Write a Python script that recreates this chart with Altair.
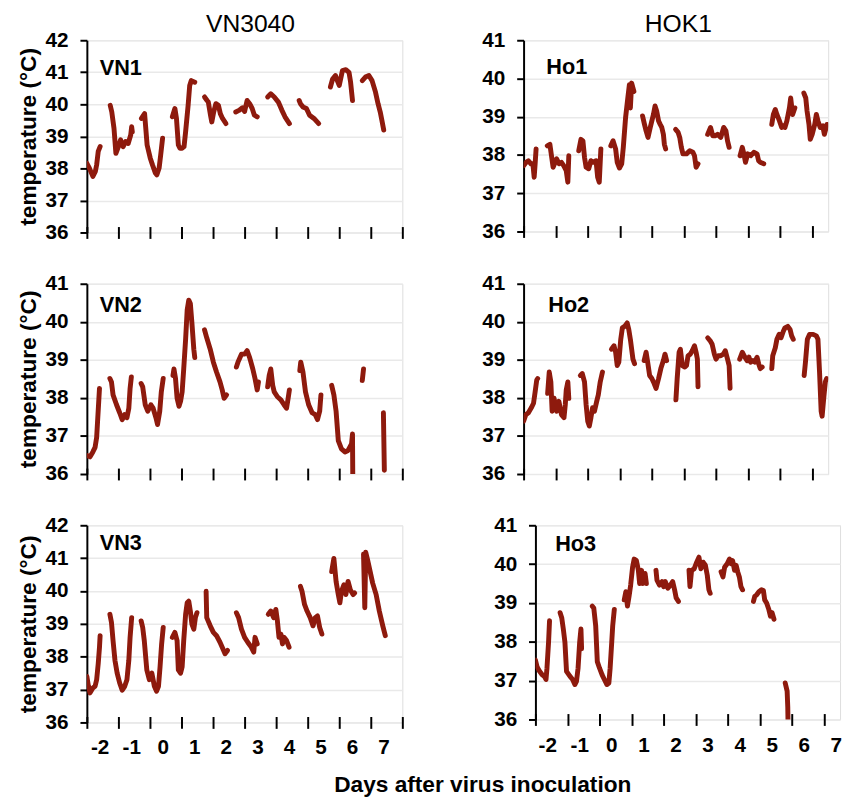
import altair as alt
import pandas as pd

LINE_COLOR = "#8e1a0d"
FONT = "Liberation Sans"

# Each panel: list of recorded segments, each a list of (day after inoculation, temperature °C)
VN1 = [
    [(-2.50, 38.16), (-2.42, 38.01), (-2.31, 37.75), (-2.23, 37.91), (-2.19, 38.11), (-2.14, 38.53), (-2.08, 38.68)],
    [(-1.76, 39.97), (-1.71, 39.76), (-1.64, 39.25), (-1.58, 38.47), (-1.50, 38.68), (-1.43, 38.89), (-1.35, 38.68),
     (-1.27, 38.84), (-1.19, 38.78), (-1.11, 39.04), (-1.08, 39.30), (-1.06, 39.14)],
    [(-0.77, 39.56), (-0.67, 39.71), (-0.59, 38.73), (-0.49, 38.32), (-0.42, 38.11), (-0.33, 37.86), (-0.28, 37.80),
     (-0.21, 38.01), (-0.16, 38.42), (-0.10, 38.94)],
    [(0.21, 39.61), (0.29, 39.87), (0.34, 39.56), (0.40, 38.73), (0.45, 38.63), (0.52, 38.63), (0.58, 38.68),
     (0.63, 39.14), (0.71, 39.97), (0.76, 40.59), (0.81, 40.74), (0.92, 40.69)],
    [(1.23, 40.23), (1.31, 40.12), (1.35, 40.07), (1.42, 39.66), (1.46, 39.45), (1.52, 39.76), (1.59, 40.02),
     (1.67, 39.97), (1.73, 39.71), (1.80, 39.56), (1.91, 39.40)],
    [(2.22, 39.76), (2.32, 39.81), (2.43, 39.89), (2.50, 39.78), (2.58, 40.12), (2.66, 40.02), (2.74, 39.87),
     (2.81, 39.66), (2.90, 39.61)],
    [(3.23, 40.23), (3.33, 40.33), (3.44, 40.23), (3.57, 40.07), (3.68, 39.82), (3.78, 39.61), (3.92, 39.40)],
    [(4.23, 40.12), (4.27, 40.02), (4.35, 39.92), (4.46, 39.87), (4.56, 39.66), (4.72, 39.54), (4.85, 39.40)],
    [(5.22, 40.54), (5.29, 40.79), (5.38, 40.90), (5.42, 40.79), (5.50, 40.59), (5.60, 41.05), (5.71, 41.08),
     (5.81, 41.00), (5.86, 40.69), (5.92, 40.12)],
    [(6.23, 40.74), (6.33, 40.85), (6.44, 40.90), (6.54, 40.74), (6.65, 40.38), (6.73, 40.02), (6.80, 39.76),
     (6.85, 39.51), (6.91, 39.20)],
]

VN2 = [
    [(-2.50, 36.49), (-2.40, 36.45), (-2.31, 36.58), (-2.24, 36.70), (-2.19, 36.96), (-2.16, 37.39), (-2.13, 37.82),
     (-2.10, 38.25)],
    [(-1.77, 38.51), (-1.72, 38.42), (-1.67, 38.08), (-1.56, 37.82), (-1.46, 37.61), (-1.38, 37.43), (-1.30, 37.56),
     (-1.23, 37.48), (-1.17, 37.73), (-1.13, 38.25), (-1.09, 38.55)],
    [(-0.78, 38.38), (-0.73, 38.29), (-0.65, 37.82), (-0.57, 37.65), (-0.47, 37.82), (-0.40, 37.73), (-0.31, 37.48),
     (-0.26, 37.30), (-0.19, 37.65), (-0.14, 38.16), (-0.08, 38.51)],
    [(0.23, 38.59), (0.26, 38.76), (0.31, 38.51), (0.36, 37.99), (0.42, 37.78), (0.47, 37.91), (0.52, 38.16),
     (0.57, 38.76), (0.63, 39.54), (0.68, 40.31), (0.73, 40.57), (0.78, 40.48), (0.83, 39.97), (0.89, 39.28),
     (0.92, 39.06)],
    [(1.23, 39.79), (1.30, 39.58), (1.41, 39.28), (1.51, 38.94), (1.61, 38.68), (1.72, 38.42), (1.79, 38.21),
     (1.85, 37.99), (1.93, 38.08)],
    [(2.24, 38.81), (2.29, 38.94), (2.40, 39.15), (2.50, 39.15), (2.58, 39.24), (2.66, 39.06), (2.76, 38.76),
     (2.83, 38.51), (2.90, 38.21), (2.94, 38.42)],
    [(3.23, 38.29), (3.28, 38.59), (3.33, 38.76), (3.39, 38.33), (3.44, 38.16), (3.54, 38.03), (3.65, 37.95),
     (3.75, 37.82), (3.83, 37.73), (3.88, 37.99), (3.92, 38.21)],
    [(4.25, 38.72), (4.28, 38.94), (4.35, 38.68), (4.43, 38.16), (4.53, 37.82), (4.64, 37.61), (4.74, 37.56),
     (4.81, 37.43), (4.88, 37.65), (4.92, 38.08)],
    [(5.26, 38.33), (5.33, 38.08), (5.40, 37.65), (5.47, 36.88), (5.57, 36.66), (5.68, 36.58), (5.78, 36.62),
     (5.89, 36.79), (5.92, 37.05), (5.93, 35.80)],
    [(6.23, 38.46), (6.27, 38.76)],
    [(6.90, 37.61), (6.93, 36.10)],
]

VN3 = [
    [(-2.50, 37.40), (-2.45, 37.10), (-2.40, 36.90), (-2.31, 37.05), (-2.24, 37.10), (-2.19, 37.30), (-2.14, 37.79),
     (-2.10, 38.29), (-2.08, 38.64)],
    [(-1.77, 39.29), (-1.72, 39.04), (-1.67, 38.49), (-1.61, 37.89), (-1.54, 37.50), (-1.46, 37.20), (-1.38, 36.98),
     (-1.30, 37.10), (-1.23, 37.30), (-1.17, 37.89), (-1.13, 38.59), (-1.08, 39.19)],
    [(-0.78, 39.09), (-0.73, 38.89), (-0.68, 38.49), (-0.60, 37.60), (-0.52, 37.30), (-0.44, 37.50), (-0.36, 37.10),
     (-0.29, 36.95), (-0.23, 37.10), (-0.18, 37.69), (-0.13, 38.39), (-0.08, 38.89)],
    [(0.21, 38.59), (0.29, 38.74), (0.36, 38.49), (0.40, 37.60), (0.47, 37.50), (0.52, 37.69), (0.57, 38.49),
     (0.63, 39.29), (0.68, 39.64), (0.73, 39.69), (0.78, 39.39), (0.83, 38.99), (0.89, 38.84), (0.94, 39.19),
     (0.99, 39.34)],
    [(1.28, 39.99), (1.30, 39.19), (1.41, 38.94), (1.51, 38.74), (1.61, 38.64), (1.72, 38.44), (1.79, 38.29),
     (1.88, 38.09), (1.96, 38.19)],
    [(2.24, 39.34), (2.31, 39.19), (2.40, 38.84), (2.50, 38.59), (2.60, 38.44), (2.71, 38.29), (2.79, 38.14),
     (2.83, 38.59), (2.90, 38.39)],
    [(3.25, 39.29), (3.33, 39.39), (3.42, 39.19), (3.49, 39.44), (3.54, 39.09), (3.59, 38.59), (3.65, 38.69),
     (3.70, 38.39), (3.75, 38.59), (3.83, 38.49), (3.91, 38.29)],
    [(4.27, 40.14), (4.32, 39.99), (4.40, 39.59), (4.48, 39.39), (4.58, 39.19), (4.67, 38.94), (4.74, 39.19),
     (4.81, 39.24), (4.88, 38.89), (4.95, 38.69)],
    [(5.26, 40.59), (5.33, 40.99), (5.40, 40.29), (5.47, 39.89), (5.52, 39.64), (5.57, 39.99), (5.65, 40.19),
     (5.71, 39.89), (5.78, 40.29), (5.85, 40.04), (5.94, 39.89), (5.99, 39.94)],
    [(6.27, 41.13), (6.31, 39.49), (6.34, 41.18), (6.40, 40.94), (6.48, 40.59), (6.56, 40.24), (6.67, 39.89),
     (6.77, 39.39), (6.88, 38.94), (6.96, 38.64)],
]

HO1 = [
    [(-2.50, 37.72), (-2.42, 37.81), (-2.35, 37.85), (-2.27, 37.77), (-2.21, 37.77), (-2.17, 37.42), (-2.14, 37.77),
     (-2.11, 38.16)],
    [(-1.76, 38.24), (-1.68, 38.28), (-1.58, 37.68), (-1.47, 37.90), (-1.39, 37.77), (-1.32, 37.81), (-1.25, 37.72),
     (-1.17, 37.59), (-1.12, 37.29), (-1.09, 37.98)],
    [(-0.78, 38.11), (-0.71, 38.41), (-0.65, 38.37), (-0.60, 37.94), (-0.55, 37.68), (-0.47, 37.64), (-0.40, 37.85),
     (-0.33, 37.81), (-0.24, 37.85), (-0.19, 37.42), (-0.14, 37.29), (-0.09, 38.16)],
    [(0.22, 38.24), (0.29, 38.37), (0.37, 38.16), (0.42, 37.81), (0.49, 37.66), (0.56, 37.77), (0.61, 38.20),
     (0.68, 38.97), (0.75, 39.49), (0.80, 39.84), (0.83, 39.23), (0.87, 39.88), (0.94, 39.66)],
    [(1.21, 39.02), (1.27, 38.80), (1.32, 38.63), (1.38, 38.46), (1.45, 38.72), (1.50, 38.89), (1.55, 39.06),
     (1.60, 39.28), (1.65, 39.15), (1.71, 38.89), (1.76, 38.80), (1.81, 38.72), (1.86, 38.54), (1.89, 38.28),
     (1.93, 38.16)],
    [(2.24, 38.67), (2.32, 38.59), (2.37, 38.46), (2.42, 38.20), (2.47, 38.03), (2.58, 38.03), (2.68, 38.11),
     (2.78, 38.07), (2.83, 37.98), (2.88, 37.68), (2.94, 37.77)],
    [(3.24, 38.54), (3.33, 38.72), (3.40, 38.50), (3.47, 38.50), (3.55, 38.54), (3.65, 38.46), (3.74, 38.72),
     (3.81, 38.63), (3.86, 38.37), (3.91, 38.20)],
    [(4.25, 37.98), (4.32, 38.20), (4.37, 38.03), (4.42, 37.81), (4.49, 38.03), (4.58, 37.98), (4.68, 38.07),
     (4.78, 38.03), (4.83, 37.85), (4.88, 37.81), (4.99, 37.77)],
    [(5.24, 38.80), (5.29, 39.06), (5.35, 39.19), (5.40, 39.06), (5.48, 38.89), (5.55, 38.72), (5.60, 38.76),
     (5.65, 38.72), (5.71, 38.89), (5.79, 39.23), (5.83, 39.49), (5.89, 39.06), (5.96, 39.23)],
    [(6.24, 39.62), (6.30, 39.49), (6.34, 39.15), (6.40, 38.80), (6.44, 38.41), (6.50, 38.54), (6.58, 38.80),
     (6.63, 39.06), (6.68, 38.89), (6.75, 38.72), (6.83, 38.76), (6.88, 38.54), (6.96, 38.80)],
]

HO2 = [
    [(-2.50, 37.39), (-2.43, 37.56), (-2.35, 37.61), (-2.26, 37.74), (-2.19, 37.86), (-2.14, 38.16), (-2.09, 38.47),
     (-2.06, 38.51)],
    [(-1.75, 38.12), (-1.70, 38.68), (-1.65, 38.42), (-1.61, 37.65), (-1.55, 37.99), (-1.47, 37.65), (-1.40, 37.91),
     (-1.32, 37.56), (-1.24, 37.48), (-1.20, 37.82), (-1.17, 38.21), (-1.12, 38.42), (-1.09, 37.99)],
    [(-0.73, 38.59), (-0.67, 38.64), (-0.60, 38.42), (-0.55, 37.82), (-0.50, 37.39), (-0.45, 37.26), (-0.40, 37.48),
     (-0.35, 37.74), (-0.29, 37.65), (-0.22, 37.91), (-0.17, 38.08), (-0.11, 38.42), (-0.04, 38.68)],
    [(0.24, 39.28), (0.32, 39.37), (0.37, 39.20), (0.42, 38.85), (0.47, 38.94), (0.53, 39.54), (0.58, 39.84),
     (0.65, 39.88), (0.73, 39.97), (0.78, 39.80), (0.83, 39.54), (0.91, 39.02), (0.96, 38.90)],
    [(1.26, 38.98), (1.32, 39.20), (1.37, 38.94), (1.43, 38.59), (1.50, 38.51), (1.55, 38.42), (1.63, 38.25),
     (1.71, 38.51), (1.78, 38.77), (1.86, 38.98), (1.91, 39.15), (1.96, 38.98)],
    [(2.25, 37.95), (2.29, 38.51), (2.35, 39.20), (2.39, 39.28), (2.45, 38.85), (2.53, 38.81), (2.58, 38.85),
     (2.63, 39.11), (2.70, 39.15), (2.76, 39.24), (2.83, 39.37), (2.88, 39.20), (2.92, 39.02), (2.94, 38.29)],
    [(3.24, 39.58), (3.32, 39.50), (3.38, 39.41), (3.45, 39.15), (3.50, 39.02), (3.57, 39.11), (3.65, 39.11),
     (3.73, 39.15), (3.79, 39.24), (3.86, 39.02), (3.91, 38.85), (3.94, 38.25)],
    [(4.24, 39.02), (4.32, 39.20), (4.40, 39.07), (4.47, 38.98), (4.53, 39.07), (4.58, 38.94), (4.65, 38.98),
     (4.71, 38.94), (4.78, 39.07), (4.83, 38.90), (4.88, 38.77), (4.94, 38.81)],
    [(5.24, 38.77), (5.27, 39.11), (5.35, 39.32), (5.40, 39.54), (5.47, 39.67), (5.53, 39.58), (5.60, 39.75),
     (5.65, 39.84), (5.74, 39.88), (5.81, 39.80), (5.86, 39.63), (5.91, 39.54)],
    [(6.25, 38.59), (6.29, 38.94), (6.35, 39.54), (6.42, 39.67), (6.53, 39.67), (6.63, 39.63), (6.68, 39.54),
     (6.73, 38.68), (6.78, 37.65), (6.81, 37.52), (6.86, 37.99), (6.91, 38.42), (6.95, 38.51)],
]

HO3 = [
    [(-2.50, 37.53), (-2.45, 37.36), (-2.37, 37.24), (-2.29, 37.15), (-2.22, 37.11), (-2.17, 37.03), (-2.14, 37.32),
     (-2.09, 37.99), (-2.06, 38.54)],
    [(-1.73, 38.75), (-1.68, 38.62), (-1.63, 38.33), (-1.58, 37.99), (-1.53, 37.24), (-1.42, 37.11), (-1.34, 37.03),
     (-1.27, 36.90), (-1.22, 36.98), (-1.17, 37.32), (-1.12, 37.99), (-1.08, 38.33), (-1.06, 37.82)],
    [(-0.73, 38.92), (-0.68, 38.87), (-0.62, 38.41), (-0.57, 37.49), (-0.50, 37.32), (-0.42, 37.15), (-0.35, 37.03),
     (-0.27, 36.90), (-0.21, 36.94), (-0.17, 37.32), (-0.12, 37.99), (-0.09, 38.41), (-0.04, 38.83)],
    [(0.27, 39.08), (0.32, 39.29), (0.37, 38.92), (0.42, 39.17), (0.47, 39.46), (0.53, 39.92), (0.58, 40.13),
     (0.65, 40.09), (0.71, 39.84), (0.75, 39.50), (0.81, 39.84), (0.85, 39.50), (0.92, 39.76), (0.96, 39.50)],
    [(1.26, 39.84), (1.29, 39.59), (1.37, 39.46), (1.45, 39.55), (1.50, 39.42), (1.55, 39.55), (1.63, 39.38),
     (1.71, 39.46), (1.78, 39.55), (1.84, 39.34), (1.89, 39.13), (1.96, 39.04)],
    [(2.29, 39.84), (2.32, 39.42), (2.37, 39.84), (2.45, 39.88), (2.53, 40.05), (2.60, 40.18), (2.66, 39.88),
     (2.73, 40.05), (2.80, 39.97), (2.86, 39.71), (2.91, 39.34), (2.95, 39.25)],
    [(3.29, 39.80), (3.35, 39.67), (3.40, 39.92), (3.48, 40.01), (3.55, 40.13), (3.60, 40.01), (3.65, 40.09),
     (3.71, 39.84), (3.76, 39.97), (3.81, 39.80), (3.86, 39.67), (3.91, 39.42), (3.96, 39.34)],
    [(4.30, 39.04), (4.34, 39.17), (4.40, 39.21), (4.47, 39.29), (4.55, 39.34), (4.61, 39.32), (4.65, 39.08),
     (4.71, 39.00), (4.78, 38.83), (4.83, 38.66), (4.88, 38.75), (4.94, 38.58)],
    [(5.29, 36.94), (5.35, 36.73), (5.37, 36.31), (5.38, 35.80)],
]

COLUMN_TITLES = ["VN3040", "HOK1"]
Y_TITLE = "temperature (°C)"
X_TITLE = "Days after virus inoculation"


def to_df(segs):
    rows = []
    for s, seg in enumerate(segs):
        for i, (d, t) in enumerate(seg):
            rows.append({"seg": s, "i": i, "day": d, "temp": t})
    return pd.DataFrame(rows)


def panel(name, segs, ymax, width, height, xmax, bottom, left, lab_x, lab_y,
          lab_off, title=None, title_x=0):
    xticks = [v + 0.5 for v in range(-3, 8) if v + 0.5 <= xmax + 1e-9]
    x_axis = alt.Axis(
        values=xticks, labels=bottom,
        labelExpr="datum.value < 7 ? toString(datum.value + 0.5) : ''",
        labelOffset=lab_off, labelFlush=False, labelOverlap=False,
        domain=False, offset=-6, tickSize=12, tickWidth=2, tickColor="black",
        grid=False, title=None, labelFontSize=21, labelFontWeight="bold",
        labelFont=FONT, labelColor="black", labelPadding=9,
    )
    y_kwargs = dict(
        values=list(range(36, ymax + 1)), grid=True, gridColor="#e9e9e9", gridWidth=1.5,
        tickSize=7, tickWidth=2, tickColor="black", domainColor="black", domainWidth=2,
        labelFontSize=21, labelFontWeight="bold", labelFont=FONT, labelColor="black",
        labelPadding=12, labelFlush=False, labelOverlap=False,
    )
    if left:
        y_axis = alt.Axis(title=Y_TITLE, titleFontSize=23, titleFontWeight="bold",
                          titleFont=FONT, titleColor="black", titlePadding=5, **y_kwargs)
    else:
        y_axis = alt.Axis(title=None, **y_kwargs)

    line = alt.Chart(to_df(segs)).mark_line(
        color=LINE_COLOR, strokeWidth=5, strokeCap="round", strokeJoin="round", clip=True
    ).encode(
        x=alt.X("day:Q", scale=alt.Scale(domain=[-2.5, xmax], nice=False, zero=False), axis=x_axis),
        y=alt.Y("temp:Q", scale=alt.Scale(domain=[36, ymax], nice=False, zero=False), axis=y_axis),
        detail="seg:N",
        order="i:Q",
    )
    label = alt.Chart(pd.DataFrame({"t": [name]})).mark_text(
        align="left", baseline="alphabetic", fontSize=22, fontWeight="bold", font=FONT, color="black"
    ).encode(x=alt.value(lab_x), y=alt.value(lab_y), text="t:N")
    layers = [line, label]
    if title:
        layers.append(
            alt.Chart(pd.DataFrame({"t": [title]})).mark_text(
                align="center", baseline="alphabetic", fontSize=25, fontWeight="normal",
                font=FONT, color="black"
            ).encode(x=alt.value(title_x), y=alt.value(-8), text="t:N")
        )
    return alt.layer(*layers).properties(width=width, height=height)


LW, RW, RXMAX = 320, 309, 7.0
HSPACE = 78

row1 = alt.hconcat(
    panel("VN1", VN1, 42, LW, 195, 7.5, False, True, 13, 35, 13, COLUMN_TITLES[0], 166),
    panel("Ho1", HO1, 41, RW, 194, RXMAX, False, False, 23, 34, 12, COLUMN_TITLES[1], 157),
    spacing=HSPACE,
)
row2 = alt.hconcat(
    panel("VN2", VN2, 41, LW, 193, 7.5, False, True, 13, 29, 13),
    panel("Ho2", HO2, 41, RW, 193, RXMAX, False, False, 25, 29, 12),
    spacing=HSPACE,
)
row3 = alt.hconcat(
    panel("VN3", VN3, 42, LW, 200, 7.5, True, True, 13, 25, 13),
    panel("Ho3", HO3, 41, RW, 197, RXMAX, True, False, 20, 26, 12),
    spacing=HSPACE,
)

chart = alt.vconcat(row1, row2, row3, spacing=29).properties(
    title=alt.TitleParams(X_TITLE, orient="bottom", anchor="middle", fontSize=23, fontWeight="bold",
                          font=FONT, color="black", dx=54, offset=16),
    padding={"left": 9, "top": -2, "right": 0, "bottom": 0},
).configure_view(stroke="#111", strokeWidth=1.5).configure(background="white")

chart.save("out.html", embed_options={"renderer": "svg", "actions": False})
